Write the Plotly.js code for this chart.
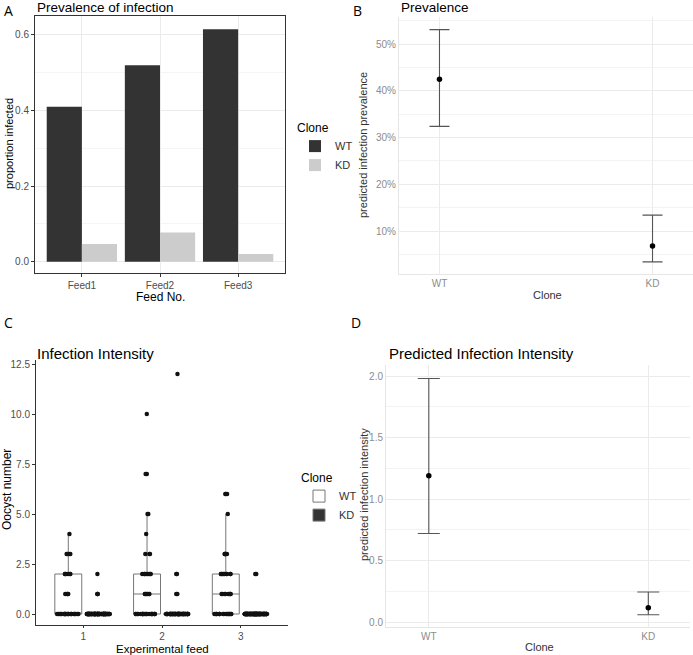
<!DOCTYPE html>
<html>
<head>
<meta charset="utf-8">
<script src="https://cdn.plot.ly/plotly-3.0.1.min.js"></script>
<style>html,body{margin:0;padding:0;background:#fff;} #chart{width:693px;height:655px;}</style>
</head>
<body>
<div id="chart"></div>
<script>
// ---------- Panel A: prevalence of infection ----------
var feeds = ['Feed1', 'Feed2', 'Feed3'];
var prevWT = [0.41, 0.52, 0.615];
var prevKD = [0.047, 0.077, 0.02];

// ---------- Panel B: predicted prevalence ----------
var clones = ['WT', 'KD'];
var predPrev = [0.425, 0.068];
var predPrevUpper = [0.531, 0.134];
var predPrevLower = [0.324, 0.034];

// ---------- Panel C: oocyst counts (value, count) per feed ----------
var ooValues = [0, 1, 2, 3, 4, 5, 6, 7, 10, 12];
var wtFeed1Counts = [22, 4, 6, 4, 1, 0, 0, 0, 0, 0];
var wtFeed2Counts = [21, 6, 8, 3, 1, 2, 0, 2, 1, 0];
var wtFeed3Counts = [16, 8, 9, 5, 0, 1, 3, 0, 0, 0];
var kdFeed1Counts = [81, 3, 1, 0, 0, 0, 0, 0, 0, 0];
var kdFeed2Counts = [60, 2, 2, 0, 0, 0, 0, 0, 0, 1];
var kdFeed3Counts = [98, 0, 2, 0, 0, 0, 0, 0, 0, 0];
var feedNumbers = [1, 2, 3];

// ---------- Panel D: predicted intensity ----------
var predInt = [1.19, 0.116];
var predIntUpper = [1.98, 0.244];
var predIntLower = [0.72, 0.06];

function expand(countsList) {
  var xs = [], ys = [];
  countsList.forEach(function (counts, fi) {
    counts.forEach(function (c, vi) {
      for (var k = 0; k < c; k++) { xs.push(feedNumbers[fi]); ys.push(ooValues[vi]); }
    });
  });
  return {x: xs, y: ys};
}
var wtC = expand([wtFeed1Counts, wtFeed2Counts, wtFeed3Counts]);
var kdC = expand([kdFeed1Counts, kdFeed2Counts, kdFeed3Counts]);

function diff(a, b) { return a.map(function (v, i) { return Math.abs(v - b[i]); }); }

var W = 693, H = 655;
function px(x) { return x / W; }
function py(y) { return 1 - y / H; }

var FONT = 'Liberation Sans, Arial, sans-serif';

var traces = [
  {type: 'bar', x: feeds, y: prevWT, name: 'WT', marker: {color: '#333333'}, xaxis: 'x', yaxis: 'y', legend: 'legend'},
  {type: 'bar', x: feeds, y: prevKD, name: 'KD', marker: {color: '#cccccc'}, xaxis: 'x', yaxis: 'y', legend: 'legend'},
  {type: 'scatter', mode: 'markers', x: clones, y: predPrev, xaxis: 'x2', yaxis: 'y2', showlegend: false,
   marker: {color: '#000', size: 5.5},
   error_y: {type: 'data', symmetric: false, array: diff(predPrevUpper, predPrev), arrayminus: diff(predPrev, predPrevLower),
             color: '#555', thickness: 1.1, width: 10}},
  {type: 'box', x: wtC.x, y: wtC.y, name: 'WT', xaxis: 'x3', yaxis: 'y3', legend: 'legend2', offsetgroup: 'wt',
   boxpoints: 'all', jitter: 0.85, pointpos: 0, whiskerwidth: 0, fillcolor: '#ffffff',
   line: {color: '#777777', width: 1}, marker: {color: '#111', size: 4.5}},
  {type: 'box', x: kdC.x, y: kdC.y, name: 'KD', xaxis: 'x3', yaxis: 'y3', legend: 'legend2', offsetgroup: 'kd',
   boxpoints: 'all', jitter: 0.85, pointpos: 0, whiskerwidth: 0, fillcolor: '#333333',
   line: {color: '#777777', width: 1}, marker: {color: '#111', size: 4.5}},
  {type: 'scatter', mode: 'markers', x: clones, y: predInt, xaxis: 'x4', yaxis: 'y4', showlegend: false,
   marker: {color: '#000', size: 5.5},
   error_y: {type: 'data', symmetric: false, array: diff(predIntUpper, predInt), arrayminus: diff(predInt, predIntLower),
             color: '#555', thickness: 1.1, width: 11}}
];

function ann(text, x, y, o) {
  o = o || {};
  return Object.assign({text: text, x: px(x), y: py(y), xref: 'paper', yref: 'paper', showarrow: false,
    xanchor: 'left', yanchor: 'middle', font: {family: FONT, size: 11, color: '#000'}}, o);
}

var tickGrey = '#4d4d4d';
var lightGrey = '#8c8c8c';

var layout = {
  width: W, height: H, margin: {l: 0, r: 0, t: 0, b: 0},
  paper_bgcolor: '#fff', plot_bgcolor: 'rgba(0,0,0,0)',
  font: {family: FONT},
  barmode: 'group', bargap: 0.1, bargroupgap: 0,
  boxmode: 'group', boxgap: 0.24, boxgroupgap: 0.1,
  // Panel A
  xaxis: {domain: [px(35), px(285)], anchor: 'y', type: 'category', range: [-0.6, 2.6],
    showgrid: true, gridcolor: '#ebebeb', ticks: 'outside', ticklen: 3, tickcolor: '#333',
    tickfont: {size: 10, color: tickGrey}, mirror: true, showline: true, linecolor: '#333', linewidth: 1, zeroline: false},
  yaxis: {domain: [py(273), py(16)], anchor: 'x', range: [-0.03, 0.65], tickvals: [0, 0.2, 0.4, 0.6], tickformat: '.1f',
    showgrid: true, gridcolor: '#ebebeb', minor: {tickvals: [0.1, 0.3, 0.5], showgrid: true, gridcolor: '#f5f5f5', ticks: ''},
    ticks: 'outside', ticklen: 3, tickcolor: '#333', tickfont: {size: 10, color: tickGrey},
    mirror: true, showline: true, linecolor: '#333', linewidth: 1, zeroline: false},
  // Panel B
  xaxis2: {domain: [px(399), 1], anchor: 'y2', type: 'category', range: [-0.19, 1.19],
    showgrid: true, gridcolor: '#ebebeb', minor: {showgrid: true, gridcolor: '#f3f3f3'}, ticks: '',
    tickfont: {size: 10, color: lightGrey}, showline: true, linecolor: '#e6e6e6', zeroline: false},
  yaxis2: {domain: [py(274), py(17)], anchor: 'x2', range: [0.008, 0.558], tickvals: [0.1, 0.2, 0.3, 0.4, 0.5], tickformat: '.0%',
    showgrid: true, gridcolor: '#ebebeb', minor: {tickvals: [0.05, 0.15, 0.25, 0.35, 0.45, 0.55], showgrid: true, gridcolor: '#f3f3f3'},
    ticks: '', tickfont: {size: 10, color: lightGrey}, showline: true, linecolor: '#e6e6e6', zeroline: false},
  // Panel C
  xaxis3: {domain: [px(36), px(288)], anchor: 'y3', range: [0.4, 3.6], tickvals: feedNumbers,
    showgrid: false, ticks: 'outside', ticklen: 2, tickcolor: '#333', tickfont: {size: 10, color: tickGrey},
    showline: true, linecolor: '#333', linewidth: 1, zeroline: false},
  yaxis3: {domain: [py(625), py(360)], anchor: 'x3', range: [-0.55, 12.7], tickvals: [0, 2.5, 5, 7.5, 10, 12.5], tickformat: '.1f',
    showgrid: false, ticks: 'outside', ticklen: 3, tickcolor: '#333', tickfont: {size: 10, color: tickGrey},
    showline: true, linecolor: '#333', linewidth: 1, zeroline: false},
  // Panel D
  xaxis4: {domain: [px(386), px(690)], anchor: 'y4', type: 'category', range: [-0.195, 1.19],
    showgrid: true, gridcolor: '#ebebeb', minor: {showgrid: true, gridcolor: '#f3f3f3'}, ticks: '',
    tickfont: {size: 10, color: lightGrey}, showline: true, linecolor: '#e6e6e6', zeroline: false},
  yaxis4: {domain: [py(627), py(365)], anchor: 'x4', range: [-0.04, 2.09], tickvals: [0, 0.5, 1, 1.5, 2], tickformat: '.1f',
    showgrid: true, gridcolor: '#ebebeb', minor: {tickvals: [0.25, 0.75, 1.25, 1.75], showgrid: true, gridcolor: '#f3f3f3'},
    ticks: '', tickfont: {size: 10, color: lightGrey}, showline: true, linecolor: '#e6e6e6', zeroline: false},
  legend: {x: px(295), y: py(116), xanchor: 'left', yanchor: 'top', bgcolor: 'rgba(0,0,0,0)',
    title: {text: 'Clone', font: {size: 12, color: '#000'}}, font: {size: 11, color: '#333'}, tracegroupgap: 0},
  legend2: {x: px(299), y: py(466), xanchor: 'left', yanchor: 'top', bgcolor: 'rgba(0,0,0,0)',
    title: {text: 'Clone', font: {size: 12, color: '#000'}}, font: {size: 11, color: '#333'}, tracegroupgap: 0},
  annotations: [
    ann('A', 2, 11, {font: {family: 'Open Sans, sans-serif', size: 14, color: '#000'}}),
    ann('Prevalence of infection', 35, 7, {font: {family: FONT, size: 13.5, color: '#000'}}),
    ann('proportion infected', 9, 144, {textangle: -90, xanchor: 'center', yanchor: 'middle', font: {family: FONT, size: 11, color: '#000'}}),
    ann('Feed No.', 160, 297, {xanchor: 'center', font: {family: FONT, size: 12, color: '#000'}}),
    ann('B', 351, 11, {font: {family: 'Open Sans, sans-serif', size: 14, color: '#000'}}),
    ann('Prevalence', 399, 7, {font: {family: FONT, size: 13.5, color: '#000'}}),
    ann('predicted infection prevalence', 363, 145, {textangle: -90, xanchor: 'center', font: {family: FONT, size: 11, color: '#333'}}),
    ann('Clone', 547, 295, {xanchor: 'center', font: {family: FONT, size: 11, color: '#333'}}),
    ann('C', 2, 322, {font: {family: 'Open Sans, sans-serif', size: 14, color: '#000'}}),
    ann('Infection Intensity', 35, 353, {font: {family: FONT, size: 15, color: '#000'}}),
    ann('Oocyst number', 7, 490, {textangle: -90, xanchor: 'center', font: {family: FONT, size: 12, color: '#000'}}),
    ann('Experimental feed', 162, 649, {xanchor: 'center', font: {family: FONT, size: 11.5, color: '#000'}}),
    ann('D', 349, 322, {font: {family: 'Open Sans, sans-serif', size: 14, color: '#000'}}),
    ann('Predicted Infection Intensity', 387, 353, {font: {family: FONT, size: 15, color: '#000'}}),
    ann('predicted infection intensity', 364, 495, {textangle: -90, xanchor: 'center', font: {family: FONT, size: 11, color: '#333'}}),
    ann('Clone', 539, 647, {xanchor: 'center', font: {family: FONT, size: 11, color: '#333'}})
  ]
};

Plotly.newPlot('chart', traces, layout, {staticPlot: true, displayModeBar: false});
</script>
</body>
</html>
